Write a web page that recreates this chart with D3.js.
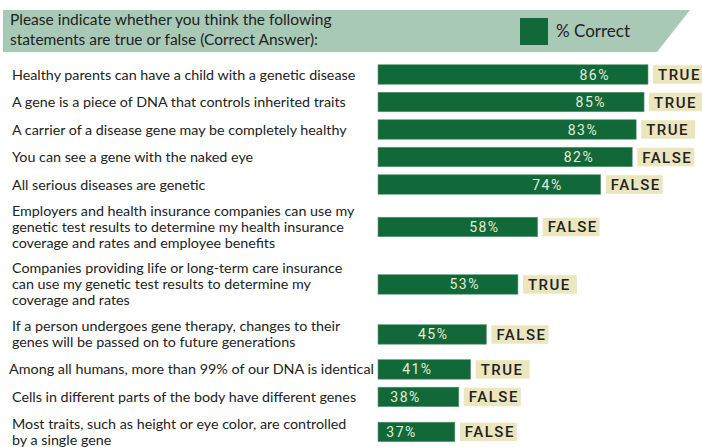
<!DOCTYPE html>
<html>
<head>
<script src="https://cdnjs.cloudflare.com/ajax/libs/d3/7.8.5/d3.min.js"></script>
<style>
body { margin: 0; background: #fff; }
.label { font-family: Lato, sans-serif; font-size: 14.3px; fill: #222; }
.pct { font-family: Roboto, sans-serif; font-size: 14px; fill: #e4ecdc; letter-spacing: 1.5px; }
.ans { font-family: Roboto, sans-serif; font-size: 15px; font-weight: 500; fill: #222; letter-spacing: 1.5px; }
.title { font-family: Lato, sans-serif; font-size: 15.5px; fill: #222; }
</style>
</head>
<body>
<div id="chart"></div>
<script>
// statements (line breaks where the original wraps)
var statements = [
  ["Healthy parents can have a child with a genetic disease"],
  ["A gene is a piece of DNA that controls inherited traits"],
  ["A carrier of a disease gene may be completely healthy"],
  ["You can see a gene with the naked eye"],
  ["All serious diseases are genetic"],
  ["Employers and health insurance companies can use my", "genetic test results to determine my health insurance", "coverage and rates and employee benefits"],
  ["Companies providing life or long-term care insurance", "can use my genetic test results to determine my", "coverage and rates"],
  ["If a person undergoes gene therapy, changes to their", "genes will be passed on to future generations"],
  ["Among all humans, more than 99% of our DNA is identical"],
  ["Cells in different parts of the body have different genes"],
  ["Most traits, such as height or eye color, are controlled", "by a single gene"]
];
var pctCorrect = [86, 85, 83, 82, 74, 58, 53, 45, 41, 38, 37];
var answers = ["TRUE", "TRUE", "TRUE", "FALSE", "FALSE", "FALSE", "TRUE", "FALSE", "TRUE", "FALSE", "FALSE"];

var titleLines = ["Please indicate whether you think the following", "statements are true or false (Correct Answer):"];
var legendLabel = "% Correct";

const W = 702, H = 447;
const green = "#116838", beige = "#ece6bf", band = "#a8c9b5";

var svg = d3.select("#chart").append("svg")
  .attr("width", W).attr("height", H);

// header band
svg.append("path")
  .attr("d", "M3,10 L690,10 L657,52 L3,52 Z")
  .attr("fill", band);

svg.selectAll(".title")
  .data(titleLines)
  .enter().append("text")
  .attr("class", "title")
  .attr("x", 10)
  .attr("y", function(d, i) { return 25 + i * 20; })
  .text(function(d) { return d; });

svg.append("rect")
  .attr("x", 520).attr("y", 18).attr("width", 28).attr("height", 27)
  .attr("fill", green);
svg.append("text")
  .attr("x", 556).attr("y", 37)
  .attr("font-family", "Lato, sans-serif").attr("font-size", "17px").attr("fill", "#222")
  .text(legendLabel);

// row layout: each row is 1 unit plus extra for wrapped label lines
var units = statements.map(function(s) { return 1 + 0.545 * (s.length - 1); });
var starts = [];
var acc = 0;
units.forEach(function(u) { starts.push(acc); acc += u; });
var y = d3.scaleLinear().domain([0, acc]).range([60.75, 60.75 + 27.5 * acc]);
function rowMid(i) { return y(starts[i] + units[i] / 2); }

var x0 = 378;
var x = d3.scaleLinear().domain([17.5, 86]).range([x0, 648]);

var barH = 19.5;
var lineGap = 16;

var rows = svg.selectAll(".row")
  .data(pctCorrect)
  .enter().append("g")
  .attr("class", "row")
  .attr("transform", function(d, i) { return "translate(0," + rowMid(i) + ")"; });

// statement labels, one text per line
rows.each(function(d, i) {
  var lines = statements[i];
  d3.select(this).selectAll(".label")
    .data(lines)
    .enter().append("text")
    .attr("class", "label")
    .attr("x", 12)
    .attr("y", function(l, j) { return (j - (lines.length - 1) / 2) * lineGap + 5; })
    .text(function(l) { return l; })
    .each(function() {
      // squeeze lines that would run into the bars
      var w = this.getComputedTextLength();
      if (w > 362) {
        d3.select(this).attr("x", 9)
          .attr("textLength", 365).attr("lengthAdjust", "spacingAndGlyphs");
      }
    });
});

rows.append("rect")
  .attr("x", x0)
  .attr("y", -barH / 2)
  .attr("width", function(d) { return x(d) - x0; })
  .attr("height", barH)
  .attr("fill", green)
  .attr("stroke", "#5f9a78")
  .attr("stroke-width", 0.6);

rows.append("text")
  .attr("class", "pct")
  .attr("text-anchor", "end")
  .attr("x", function(d) { return x(d) - 38; })
  .attr("y", 5)
  .text(function(d) { return d + "%"; });

rows.append("rect")
  .attr("x", function(d) { return x(d) + 5; })
  .attr("y", -barH / 2 + 0.5)
  .attr("width", function(d, i) { return answers[i] === "TRUE" ? 54 : 57; })
  .attr("height", barH - 1)
  .attr("fill", beige);

rows.append("text")
  .attr("class", "ans")
  .attr("x", function(d) { return x(d) + 10; })
  .attr("y", 5.5)
  .text(function(d, i) { return answers[i]; });
</script>
</body>
</html>
